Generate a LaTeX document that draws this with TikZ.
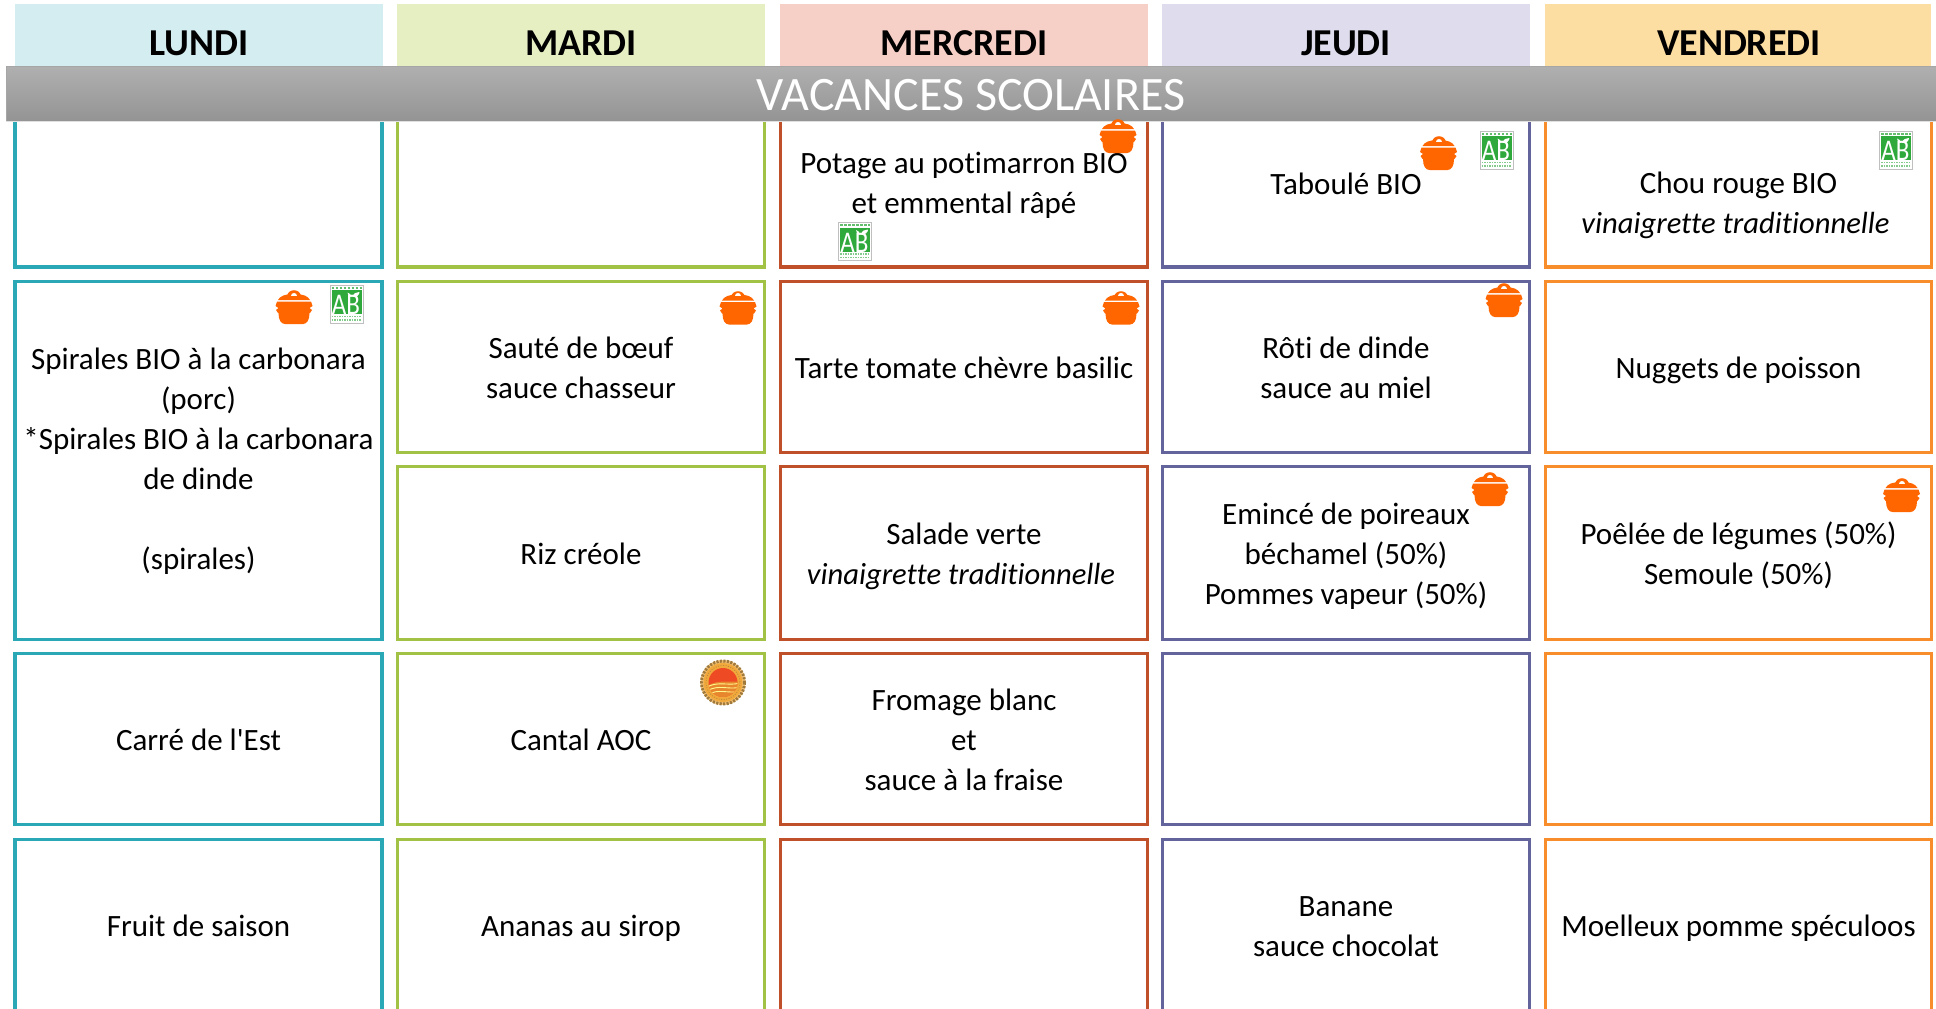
\documentclass[tikz,border=0pt]{standalone}
\usepackage{fontspec}
\setmainfont{Carlito}[Ligatures={CommonOff,TeXOff}]
\usetikzlibrary{shadings}
\definecolor{clun}{HTML}{2AA8B5}\definecolor{cmar}{HTML}{A2C245}\definecolor{cmer}{HTML}{C0502A}\definecolor{cjeu}{HTML}{64649C}\definecolor{cven}{HTML}{F78D2B}
\definecolor{hlun}{HTML}{D3EDF1}\definecolor{hmar}{HTML}{E6EFC2}\definecolor{hmer}{HTML}{F6CFC6}\definecolor{hjeu}{HTML}{DFDDED}\definecolor{hven}{HTML}{FDDEA2}
\definecolor{potc}{HTML}{FF6600}\definecolor{abg}{HTML}{2FA83C}
\definecolor{aocrim}{HTML}{A07A3C}\definecolor{aocring}{HTML}{F2A93B}\definecolor{aocred}{HTML}{EE4A24}\definecolor{aocband}{HTML}{E8862E}
\newcommand\ls{\rule[-8.5pt]{0pt}{40pt}}
\newcommand\lastls[1]{\rule[\dimexpr-8.5pt-#1\relax]{0pt}{\dimexpr40pt+#1\relax}}
\newcommand\vinai{\textit{\fontsize{30.6}{40}\selectfont vinaigrette traditionnelle}\kern6pt\relax}
\tikzset{
  x=1pt,y=-1pt,
  cell/.style={draw=#1,line width=3.3pt,fill=white,inner sep=0pt,outer sep=0pt,align=center,text=black,
    font=\fontsize{31}{40}\selectfont},
  head/.style={fill=#1,inner sep=0pt,outer sep=0pt,anchor=north west,text=black},
  headtxt/.style={font=\fontsize{38}{40}\selectfont\bfseries,text=black,inner sep=0pt},
  pot/.pic={
    \fill[potc] (-7,-10) .. controls (-7,-19) and (7,-19) .. (7,-10) -- cycle;
    \fill[potc] (-16,-7) .. controls (-14,-11) and (-9,-13) .. (0,-13) .. controls (9,-13) and (14,-11) .. (16,-7) -- cycle;
    \fill[potc] (-17,-5.5) -- (17,-5.5) -- (18.5,-1) -- (15.5,1) -- (18,3) -- (16,6) -- (15.5,6) .. controls (15.5,13) and (13,17) .. (9,17) -- (-9,17) .. controls (-13,17) and (-15.5,13) .. (-15.5,6) -- (-16,6) -- (-18,3) -- (-15.5,1) -- (-18.5,-1) -- cycle;
    \fill[white] (-3,-11.5) .. controls (-3,-15.5) and (3,-15.5) .. (3,-11.5) -- cycle;
  },
  ab/.pic={
    \fill[white] (-16.5,-19) rectangle (16.5,19);
    \draw[black!25,line width=1pt] (-16.5,-19) rectangle (16.5,19);
    \draw[abg!75!white,line width=2pt,dash pattern=on 2.5pt off 1.5pt] (-15,-16.5) -- (15,-16.5);
    \fill[abg] (-15,-14) rectangle (15,10);
    \draw[abg!60!white,line width=1.6pt,dash pattern=on 1.5pt off 1pt] (-15,12.5) -- (15,12.5);
    \draw[abg!60!white,line width=1.6pt,dash pattern=on 1.5pt off 1pt] (-15,16) -- (15,16);
    \node[inner sep=0pt,text=white,font=\fontsize{25}{25}\selectfont] at (-.5,1) {\scalebox{1}[1.2]{AB}};
    \fill[white] (6,-7) .. controls (7,-11) and (10,-12) .. (13,-12) .. controls (13,-9) and (10,-6.5) .. (6,-7) -- cycle;
    \fill[white] (5,-7) .. controls (4.5,-9.5) and (3,-11) .. (1,-11.5) .. controls (1,-9) and (2.5,-7.5) .. (5,-7) -- cycle;
  },
  aoc/.pic={
    \fill[aocring!70!white] (0,0) circle (22.5);
    \draw[aocrim,line width=3pt,dash pattern=on 2.2pt off 1.3pt] (0,0) circle (21.5);
    \fill[aocring] (0,0) circle (19.5);
    \draw[aocrim!70!aocring,line width=.8pt,dash pattern=on 1pt off 1.5pt] (0,0) circle (17);
    \fill[aocred] (0,0) circle (14.5);
    \begin{scope}
      \clip (0,0) circle (14.5);
      \fill[aocband] (-15,3) .. controls (-5,-3) and (5,0) .. (15,-1) -- (15,15) -- (-15,15) -- cycle;
      \draw[yellow!45!white,line width=.9pt] (-15,4) .. controls (-5,-1) and (5,3) .. (15,1);
      \draw[yellow!45!white,line width=.9pt] (-15,8) .. controls (-5,2) and (5,7) .. (15,5);
      \draw[yellow!45!white,line width=.9pt] (-15,12) .. controls (-5,6) and (5,11) .. (15,9);
    \end{scope}
  },
}
\begin{document}
\begin{tikzpicture}
\useasboundingbox (0,0) rectangle (1936,1009);
\clip (0,0) rectangle (1936,1009);
% day headers
\node[head=hlun,minimum width=368pt,minimum height=62pt] (hLun) at (15,4) {};
\node[head=hmar,minimum width=368pt,minimum height=62pt] (hMar) at (397,4) {};
\node[head=hmer,minimum width=368pt,minimum height=62pt] (hMer) at (780,4) {};
\node[head=hjeu,minimum width=368pt,minimum height=62pt] (hJeu) at (1162,4) {};
\node[head=hven,minimum width=386pt,minimum height=62pt] (hVen) at (1545,4) {};
\node[headtxt] (tLun) at (199,43) {LUNDI};
\node[headtxt] (tMar) at (581,43) {MARDI};
\node[headtxt] (tMer) at (964,43) {MERCREDI};
\node[headtxt] (tJeu) at (1346,43) {JEUDI};
\node[headtxt] (tVen) at (1739,43) {VENDREDI};
% row 1
\node[cell=clun,minimum width=367pt,minimum height=168pt] (a1) at (198.5,183) {};
\node[cell=cmar,minimum width=367pt,minimum height=168pt] (b1) at (581,183) {};
\node[cell=cmer,minimum width=367pt,minimum height=168pt] (c1) at (964,183) {\ls Potage au potimarron BIO\\\lastls{2pt}et emmental râpé};
\node[cell=cjeu,minimum width=367pt,minimum height=168pt] (d1) at (1346,183) {\ls Taboulé BIO};
\node[cell=cven,minimum width=386pt,minimum height=168pt] (e1) at (1738.5,183) {\ls\\\ls Chou rouge BIO\\\lastls{2pt}\vinai};
% rows 2-3 Lundi
\node[cell=clun,minimum width=367pt,minimum height=358pt] (a2) at (198.5,460.5) {\ls Spirales BIO à la carbonara\\\ls (porc)\\\ls *Spirales BIO à la carbonara\\\ls de dinde\\\ls\\\lastls{5pt}(spirales)};
% row 2
\node[cell=cmar,minimum width=367pt,minimum height=171pt] (b2) at (581,367) {\ls Sauté de bœuf\\\ls sauce chasseur};
\node[cell=cmer,minimum width=367pt,minimum height=171pt] (c2) at (964,367) {\ls Tarte tomate chèvre basilic};
\node[cell=cjeu,minimum width=367pt,minimum height=171pt] (d2) at (1346,367) {\ls Rôti de dinde\\\ls sauce au miel};
\node[cell=cven,minimum width=386pt,minimum height=171pt] (e2) at (1738.5,367) {\ls Nuggets de poisson};
% row 3
\node[cell=cmar,minimum width=367pt,minimum height=173pt] (b3) at (581,553) {\ls Riz créole};
\node[cell=cmer,minimum width=367pt,minimum height=173pt] (c3) at (964,553) {\ls Salade verte\\\ls\vinai};
\node[cell=cjeu,minimum width=367pt,minimum height=173pt] (d3) at (1346,553) {\ls Emincé de poireaux\\\ls béchamel (50\%)\\\ls Pommes vapeur (50\%)};
\node[cell=cven,minimum width=386pt,minimum height=173pt] (e3) at (1738.5,553) {\ls Poêlée de légumes (50\%)\\\ls Semoule (50\%)};
% row 4
\node[cell=clun,minimum width=367pt,minimum height=171pt] (a4) at (198.5,739) {\ls Carré de l'Est};
\node[cell=cmar,minimum width=367pt,minimum height=171pt] (b4) at (581,739) {\ls Cantal AOC};
\node[cell=cmer,minimum width=367pt,minimum height=171pt] (c4) at (964,739) {\ls Fromage blanc\\\ls et\\\ls sauce à la fraise};
\node[cell=cjeu,minimum width=367pt,minimum height=171pt] (d4) at (1346,739) {};
\node[cell=cven,minimum width=386pt,minimum height=171pt] (e4) at (1738.5,739) {};
% row 5
\node[cell=clun,minimum width=367pt,minimum height=171pt] (a5) at (198.5,925) {\ls Fruit de saison};
\node[cell=cmar,minimum width=367pt,minimum height=171pt] (b5) at (581,925) {\ls Ananas au sirop};
\node[cell=cmer,minimum width=367pt,minimum height=171pt] (c5) at (964,925) {};
\node[cell=cjeu,minimum width=367pt,minimum height=171pt] (d5) at (1346,925) {\ls Banane\\\ls sauce chocolat};
\node[cell=cven,minimum width=386pt,minimum height=171pt] (e5) at (1738.5,925) {\ls Moelleux pomme spéculoos};
% banner
\shade[top color=black!31,bottom color=black!42] (6,66) rectangle (1936,121);
\draw[black!12,line width=.8pt] (6,121.3) -- (1936,121.3);
\draw[black!35,line width=.6pt] (6,121) -- (6,66) -- (1936,66);
\node[inner sep=0pt,text=white,font=\fontsize{48}{50}\selectfont] (banner) at (971,95) {VACANCES SCOLAIRES};
% icons
\pic at (294,307) {pot};
\pic at (1118,136) {pot};
\pic at (1438.5,153) {pot};
\pic at (738,307.5) {pot};
\pic at (1121,307.5) {pot};
\pic at (1504,300) {pot};
\pic at (1490,489) {pot};
\pic at (1901.5,495) {pot};
\pic at (346.5,304) {ab};
\pic at (855,241.5) {ab};
\pic at (1496.5,150) {ab};
\pic at (1896,150) {ab};
\pic at (723,682.5) {aoc};
\end{tikzpicture}
\end{document}
